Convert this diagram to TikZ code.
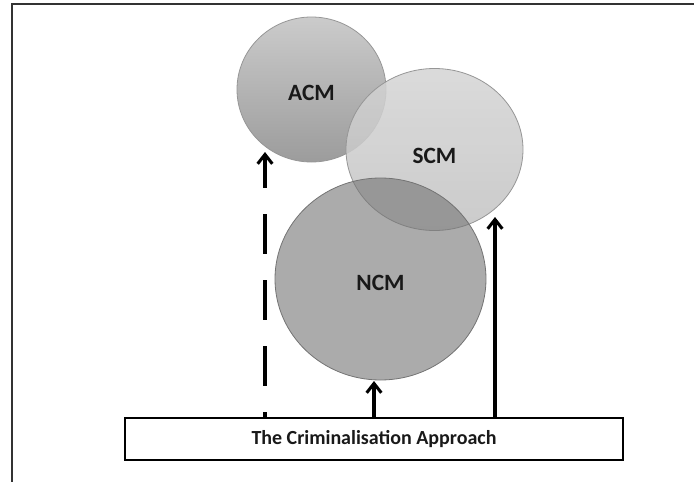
\documentclass[tikz,border=0pt]{standalone}
\usepackage{fontspec}
\usepackage{tikz}
\usetikzlibrary{shapes.geometric,arrows.meta}
\newfontfamily\modelfont{Carlito}
\definecolor{framegray}{HTML}{333333}
\definecolor{rimgray}{HTML}{969696}
\definecolor{acmtop}{HTML}{CBCBCB}
\definecolor{acmbot}{HTML}{9C9C9C}
\definecolor{scmtop}{HTML}{D4D4D4}
\definecolor{scmbot}{HTML}{C2C2C2}
\definecolor{ncmfill}{HTML}{737373}
\tikzset{
  model/.style={ellipse, inner sep=0pt, draw=rimgray, line width=0.6pt,
    text height=17pt, text depth=0pt,
    font=\modelfont\bfseries\fontsize{17.5}{20}\selectfont, text=black!90},
  approach/.style={draw, line width=1.1pt, minimum width=373.5pt, minimum height=31.5pt,
    font=\modelfont\bfseries\fontsize{15}{18}\selectfont, text=black!90},
  push/.style={line width=2.3pt, -{Straight Barb[length=7pt,width=11pt]}},
  pushdash/.style={push, dash pattern=on 30pt off 19.5pt, dash phase=26pt},
}

\begin{document}
\begin{tikzpicture}[x=0.75pt, y=-0.75pt]
  \useasboundingbox (0,0) rectangle (694,482);
  \draw[framegray, line width=1.8pt] (12,482) -- (12,4) -- (694,4);
  % Modelos
  \node[model, top color=acmtop, bottom color=acmbot,
    minimum width=111.75pt, minimum height=108.75pt] (acm) at (311.5,89.5) {ACM};
  \node[model, top color=scmtop, bottom color=scmbot, fill opacity=0.85, text opacity=1,
    minimum width=132.75pt, minimum height=121.5pt, text height=21pt] (scm) at (434.5,149.5) {SCM};
  \node[model, fill=ncmfill, fill opacity=0.6, text opacity=1, draw=black!55,
    minimum width=158.25pt, minimum height=151.5pt] (ncm) at (380.5,279) {NCM};
  \node[approach] (crim) at (374,439) {The Criminalisation Approach};
  % Setas
  \coordinate (acmfoot) at (265,152);
  \coordinate (ncmfoot) at (374,381);
  \coordinate (scmfoot) at (495,217);
  \draw[pushdash] (crim.north -| acmfoot) -- (acmfoot);
  \draw[push] (crim.north -| ncmfoot) -- (ncmfoot);
  \draw[push] (crim.north -| scmfoot) -- (scmfoot);
\end{tikzpicture}
\end{document}
